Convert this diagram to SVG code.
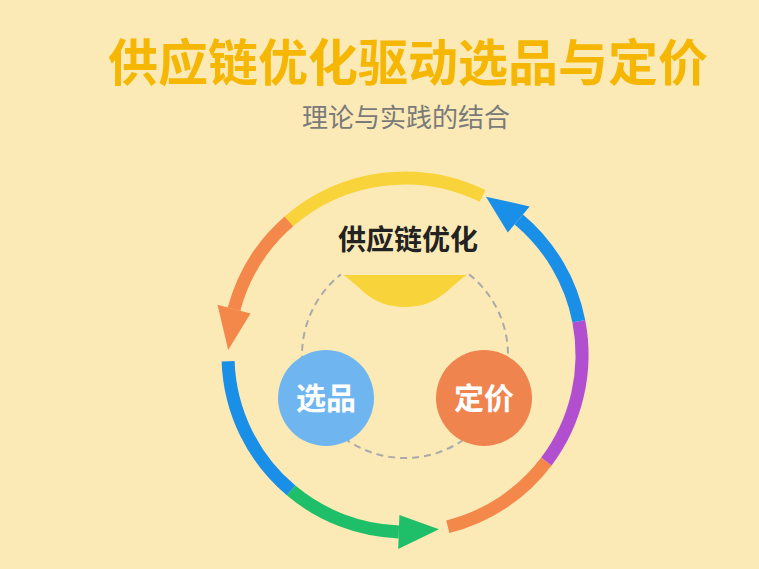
<svg xmlns="http://www.w3.org/2000/svg" width="759" height="569" viewBox="0 0 759 569">
<style>
.arc{fill:none;stroke-width:13}
.t{font-family:"Noto Sans CJK SC","Noto Sans",sans-serif;text-anchor:middle}
</style>
<rect width="759" height="569" fill="#fbeab6"/>
<text class="t" x="408" y="81" font-size="50" font-weight="bold" fill="#f5b703">供应链优化驱动选品与定价</text>
<text class="t" x="406" y="127" font-size="26" fill="#7a7a7a">理论与实践的结合</text>
<g id="connectors">
<path class="arc" stroke="#f8d43a" d="M288.9,221.4 A177,177 0 0 1 482.6,195.9"/>
<path class="arc" stroke="#f4874a" d="M288.9,221.4 A177,177 0 0 0 234,309.2"/>
<polygon fill="#f4874a" points="250.5,313.6 217.5,304.8 228.2,350"/>
<path class="arc" stroke="#1a8fe8" d="M228.1,361.2 A177,177 0 0 0 291.2,490.6"/>
<path class="arc" stroke="#1fbf6a" d="M291.2,490.6 A177,177 0 0 0 398.8,531.9"/>
<polygon fill="#1fbf6a" points="399.4,514.9 398.2,548.9 439,529.3"/>
<path class="arc" stroke="#f4874a" d="M447.8,526.7 A177,177 0 0 0 546.4,461.5"/>
<path class="arc" stroke="#b24fd0" d="M546.4,461.5 A177,177 0 0 0 578.8,321.2"/>
<path class="arc" stroke="#1a8fe8" d="M578.8,321.2 A177,177 0 0 0 518.8,219.4"/>
<polygon fill="#1a8fe8" points="507.8,232.4 529.7,206.4 486,196.7"/>
<path fill="none" stroke="#aaa" stroke-width="2" stroke-dasharray="7,5" d="M469.1,274.4 A103,103 0 1 1 340.9,274.4"/>
</g>
<g id="top">
<text class="t" x="408" y="250" font-size="28" font-weight="bold" fill="#222">供应链优化</text>
<path fill="#f8d43a" d="M343,275 H467 C450,285 440,307 405,307 C370,307 360,285 343,275 Z"/>
</g>
<g id="xuanpin">
<circle cx="326" cy="398" r="48" fill="#6fb6f0"/>
<text class="t" x="326" y="409" font-size="30" font-weight="bold" fill="#fff">选品</text>
</g>
<g id="dingjia">
<circle cx="484" cy="398" r="48" fill="#f0844f"/>
<text class="t" x="484" y="409" font-size="30" font-weight="bold" fill="#fff">定价</text>
</g>
</svg>
